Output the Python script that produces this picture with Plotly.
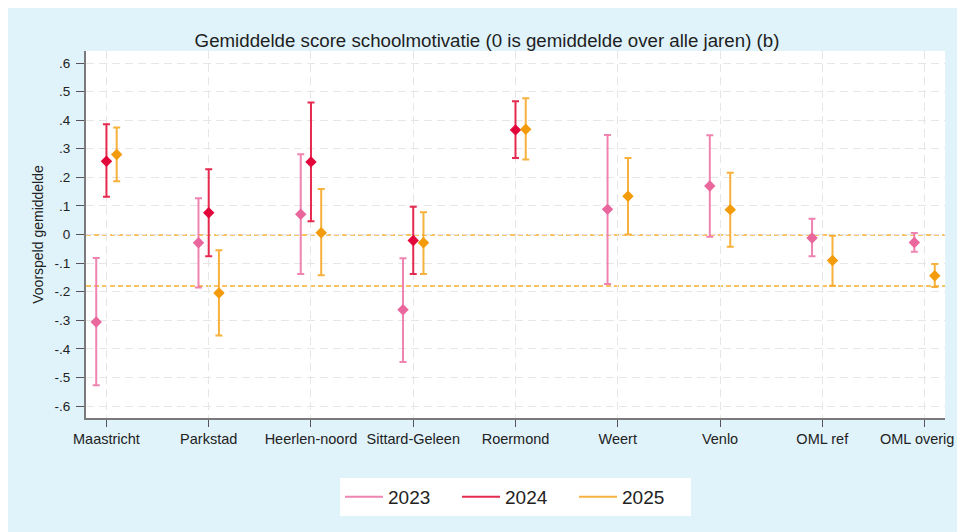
import plotly.graph_objects as go

# ---------------- data ----------------
categories = ["Maastricht", "Parkstad", "Heerlen-noord", "Sittard-Geleen", "Roermond",
              "Weert", "Venlo", "OML ref", "OML overig"]

# 2023
est_2023 = [-0.306, -0.029, 0.071, -0.263, None, 0.088, 0.170, -0.012, -0.028]
low_2023 = [-0.527, -0.185, -0.138, -0.446, None, -0.173, -0.008, -0.076, -0.060]
up_2023 = [-0.082, 0.127, 0.281, -0.083, None, 0.348, 0.347, 0.055, 0.005]

# 2024
est_2024 = [0.256, 0.076, 0.254, -0.021, 0.366, None, None, None, None]
low_2024 = [0.132, -0.076, 0.046, -0.138, 0.268, None, None, None, None]
up_2024 = [0.386, 0.228, 0.462, 0.097, 0.466, None, None, None, None]

# 2025
est_2025 = [0.280, -0.205, 0.006, -0.029, 0.368, 0.134, 0.087, -0.091, -0.144]
low_2025 = [0.186, -0.353, -0.143, -0.138, 0.262, 0.000, -0.043, -0.179, -0.184]
up_2025 = [0.374, -0.055, 0.159, 0.078, 0.477, 0.268, 0.216, -0.004, -0.103]

ref_lines = [-0.002, -0.180]

y_tickvals = [0.6, 0.5, 0.4, 0.3, 0.2, 0.1, 0.0, -0.1, -0.2, -0.3, -0.4, -0.5, -0.6]
y_ticktext = [".6", ".5", ".4", ".3", ".2", ".1", "0", "-.1", "-.2", "-.3", "-.4", "-.5", "-.6"]

series = [
    ("2023", est_2023, low_2023, up_2023, -0.1, "#ea679e", "rgba(236,110,162,0.85)"),
    ("2024", est_2024, low_2024, up_2024, 0.0, "#e2063a", "rgba(226,20,60,0.9)"),
    ("2025", est_2025, low_2025, up_2025, 0.1, "#f39b0a", "rgba(246,168,40,0.9)"),
]

FONT = "Liberation Sans, Arial, sans-serif"
fig = go.Figure()

for name, est, low, up, off, mcol, ecol in series:
    xs, ys, ep, em = [], [], [], []
    for i, v in enumerate(est):
        if v is None:
            continue
        xs.append(i + off)
        ys.append(v)
        ep.append(up[i] - v)
        em.append(v - low[i])
    fig.add_trace(go.Scatter(
        x=xs, y=ys, mode="markers", name=name, showlegend=False,
        marker=dict(symbol="diamond", size=8.8, color=mcol, line=dict(width=0)),
        error_y=dict(type="data", array=ep, arrayminus=em, symmetric=False,
                     color=ecol, thickness=2, width=3.5),
        hoverinfo="skip",
    ))
    # legend entry
    fig.add_trace(go.Scatter(
        x=[None], y=[None], mode="lines", name=name, showlegend=True,
        line=dict(color=ecol, width=2),
    ))

for yv in ref_lines:
    fig.add_shape(type="line", xref="paper", x0=0, x1=1, yref="y", y0=yv, y1=yv,
                  line=dict(color="#f6ae33", width=1.5, dash="5px,3px"), layer="between")

# Figure coordinates (the page adds an 8px body margin)
W, H = 949, 524
L, R, T, B = 78, 937, 43, 410
def px(x):
    return (x - L) / (R - L)
def py(y):
    return (B - y) / (B - T)

# the last category label sits at the right edge of the page: draw it as an
# annotation kept inside the figure so it is not hidden by the axis
tick_text = categories[:-1] + [""]
fig.add_annotation(text=categories[-1], xref="paper", yref="paper",
                   x=px(948), y=py(431), xanchor="right", yanchor="middle",
                   showarrow=False, font=dict(size=14.5, color="#222222", family=FONT))

fig.update_layout(
    width=W, height=H,
    margin=dict(l=L, r=W - R, t=T, b=H - B, pad=0),
    paper_bgcolor="#e0f3fb",
    plot_bgcolor="#ffffff",
    font=dict(family=FONT, color="#222222"),
    title=dict(
        text="Gemiddelde score schoolmotivatie (0 is gemiddelde over alle jaren) (b)",
        xref="container", yref="container", x=479 / W, y=1 - 32 / H,
        xanchor="center", yanchor="middle",
        font=dict(family="Liberation Sans Narrow, Arial Narrow, Liberation Sans, Arial",
                  size=18.7, color="#1e1e1e"),
    ),
    showlegend=True,
    legend=dict(
        orientation="h", x=0.5, xanchor="center", y=py(470), yanchor="top",
        bgcolor="#ffffff", borderwidth=0,
        font=dict(size=19, color="#222222", family=FONT),
        entrywidth=64, entrywidthmode="pixels", itemwidth=38,
    ),
    xaxis=dict(
        range=[-0.2, 8.2], tickmode="array", tickvals=list(range(len(categories))),
        ticktext=tick_text, showline=True, linecolor="#7a7a7a", linewidth=2,
        ticks="outside", ticklen=7, tickcolor="#555555", tickwidth=1,
        showgrid=True, gridcolor="#e6e6e6", griddash="8px,5px", gridwidth=1,
        zeroline=False, tickfont=dict(size=14.5, color="#222222"),
        fixedrange=True,
    ),
    yaxis=dict(
        range=[-0.642, 0.642], tickmode="array", tickvals=y_tickvals, ticktext=y_ticktext,
        showline=True, linecolor="#7a7a7a", linewidth=2,
        ticks="outside", ticklen=8, tickcolor="#555555", tickwidth=1,
        ticklabelstandoff=3,
        showgrid=True, gridcolor="#e6e6e6", griddash="8px,5px", gridwidth=1,
        zeroline=False, tickfont=dict(size=13.5, color="#222222"),
        title=dict(text="Voorspeld gemiddelde", font=dict(size=14, color="#222222"), standoff=8),
        fixedrange=True,
    ),
)

fig.write_html("out.html")
